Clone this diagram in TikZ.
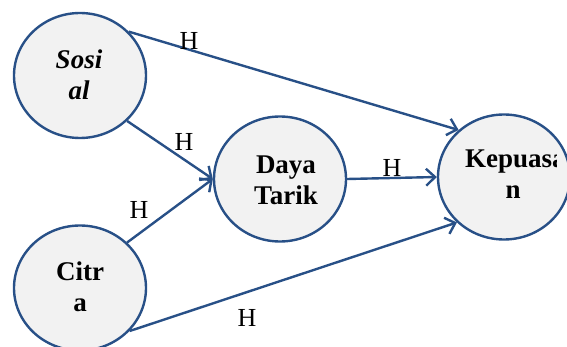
\documentclass[tikz,border=0pt]{standalone}
\usepackage{fontspec}
\setmainfont{Liberation Serif}
\usetikzlibrary{arrows.meta,shapes.geometric}
\definecolor{edgeblue}{RGB}{40,80,135}
\definecolor{circfill}{RGB}{242,242,242}
\tikzset{
  var/.style={ellipse, draw=edgeblue, fill=circfill, line width=2.4pt,
    minimum width=132pt, minimum height=125pt, inner sep=0pt},
  vtext/.style={font=\fontsize{27}{31}\selectfont\bfseries, align=center, inner sep=0pt},
  conn/.style={draw=edgeblue, line width=2.4pt,
    -{Straight Barb[length=9pt,width=17pt,line width=2.4pt]}},
  hlab/.style={font=\fontsize{26}{30}\selectfont, inner sep=0pt}
}
\begin{document}
\begin{tikzpicture}[x=1pt,y=-1pt]
\useasboundingbox (0,0) rectangle (567,347);
\node[var] (sos) at (80,75.5) {};
\node[var] (cit) at (80,288) {};
\node[var] (dt) at (280,179) {};
\node[var] (kep) at (504,177) {};
% texts
\node[vtext, font=\fontsize{27}{31}\selectfont\bfseries\itshape] (tsos) at (79,75) {Sosi\\al};
\node[vtext] (tcit) at (80,287) {Citr\\a};
\node[vtext] (tdt) at (286,180) {Daya\\Tarik};
\begin{scope}
\clip (430,100) rectangle (556,250);
\node[vtext, anchor=base west] (tkep1) at (465,168) {Kepuasa};
\end{scope}
\node[vtext, anchor=base] (tkep2) at (513,199) {n};
% connectors
\draw[conn] (sos.42) -- (kep.134);
\draw[conn] (sos.-44) -- (dt.west);
\draw[conn] (cit.44) -- (dt.west);
\draw[conn] (dt.east) -- (kep.west);
\draw[conn] (cit.-41) -- (kep.224);
% labels
\node[hlab] (h1) at (189,41) {H};
\node[hlab] (h2) at (184,142) {H};
\node[hlab] (h3) at (139,210) {H};
\node[hlab] (h4) at (392,168) {H};
\node[hlab] (h5) at (247,318) {H};
\end{tikzpicture}
\end{document}
